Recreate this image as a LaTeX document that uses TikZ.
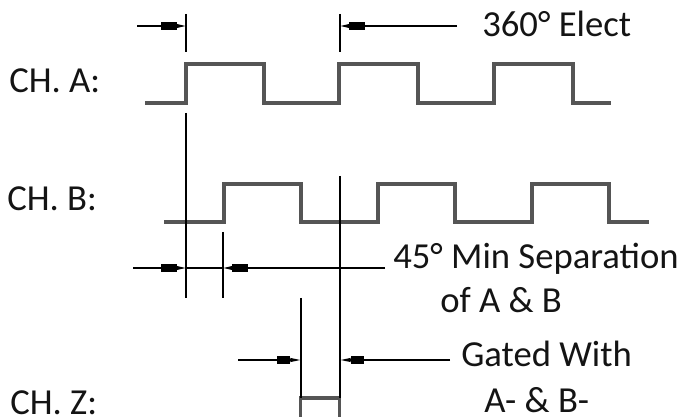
\documentclass[tikz,border=0pt]{standalone}
\usepackage{fontspec}
\setmainfont{Carlito}
\usetikzlibrary{arrows.meta}
\tikzset{
  trace/.style={color={rgb, 255:red, 85; green, 85; blue, 85 },line width=2.4pt},
  extline/.style={color=black,line width=1.1pt},
  dimline/.style={color=black,line width=1.1pt,-{Rectangle[length=12pt,width=5.6pt]Triangle[length=7pt,width=2.8pt]}},
  shortdim/.style={color=black,line width=1.1pt,-{Rectangle[length=10pt,width=5.6pt]Triangle[length=8pt,width=2.8pt]}},
  lbl/.style={inner sep=0pt,font=\fontsize{27.5}{30}\selectfont,color={rgb, 255:red, 20; green, 20; blue, 20 }}
}
\begin{document}
\begin{tikzpicture}[x=0.75pt,y=0.75pt,yscale=-1,xscale=1]
\useasboundingbox (0,0) rectangle (683,417);
%Channel labels
\node [lbl,anchor=base west] (chA) at (9,93) {CH. A:};
\node [lbl,anchor=base west] (chB) at (7,211) {CH. B:};
\node [lbl,anchor=base west] (chZ) at (10,415) {CH. Z:};
%Dimension labels
\node [lbl,anchor=base west] (elect) at (482,37) {360° Elect};
\node [lbl,anchor=base west] (sepA) at (393,269) {45° Min Separation};
\node [lbl,anchor=base west] (sepB) at (440,313) {of A \& B};
\node [lbl,anchor=base west] (gatedA) at (461,367) {Gated With};
\node [lbl,anchor=base west] (gatedB) at (484,412) {A- \& B-};
%Traces
\draw [trace] (145,103) -- (186,103) -- (186,64) -- (264,64) -- (264,103) -- (339,103) -- (339,64) -- (418,64) -- (418,103) -- (494,103) -- (494,64) -- (573,64) -- (573,103) -- (611,103) ;
\draw [trace] (164,222) -- (224,222) -- (224,184) -- (301,184) -- (301,222) -- (378,222) -- (378,184) -- (455,184) -- (455,222) -- (532,222) -- (532,184) -- (609,184) -- (609,222) -- (649,222) ;
\draw [trace] (300.5,417) -- (300.5,398) -- (339.5,398) -- (339.5,417) ;
%Extension lines
\coordinate (tA) at (186,14);
\coordinate (bA) at (186,52);
\coordinate (tB) at (340,14);
\coordinate (bB) at (340,52);
\coordinate (tC) at (186,113);
\coordinate (bC) at (186,298);
\coordinate (tD) at (223,232);
\coordinate (bD) at (223,298);
\coordinate (tE) at (340,176);
\coordinate (bE) at (340,398);
\coordinate (tF) at (301,298);
\coordinate (bF) at (301,398);
\draw [extline] (tA) -- (bA);
\draw [extline] (tB) -- (bB);
\draw [extline] (tC) -- (bC);
\draw [extline] (tD) -- (bD);
\draw [extline] (tE) -- (bE);
\draw [extline] (tF) -- (bF);
%Dimension arrows
\coordinate (a1) at (137,26);
\coordinate (a2) at (186,26);
\coordinate (a3) at (457,26);
\coordinate (a4) at (340,26);
\coordinate (b1) at (133,268);
\coordinate (b2) at (186,268);
\coordinate (b3) at (385,268);
\coordinate (b4) at (223,268);
\coordinate (c1) at (238,360);
\coordinate (c2) at (301,360);
\coordinate (c3) at (450,360);
\coordinate (c4) at (340,360);
\draw [dimline] (a1) -- (a2);
\draw [dimline] (a3) -- (a4);
\draw [dimline] (b1) -- (b2);
\draw [dimline] (b3) -- (b4);
\draw [shortdim] (c1) -- (c2);
\draw [shortdim] (c3) -- (c4);
\draw [extline] (b2) -- (b4);
\end{tikzpicture}
\end{document}
